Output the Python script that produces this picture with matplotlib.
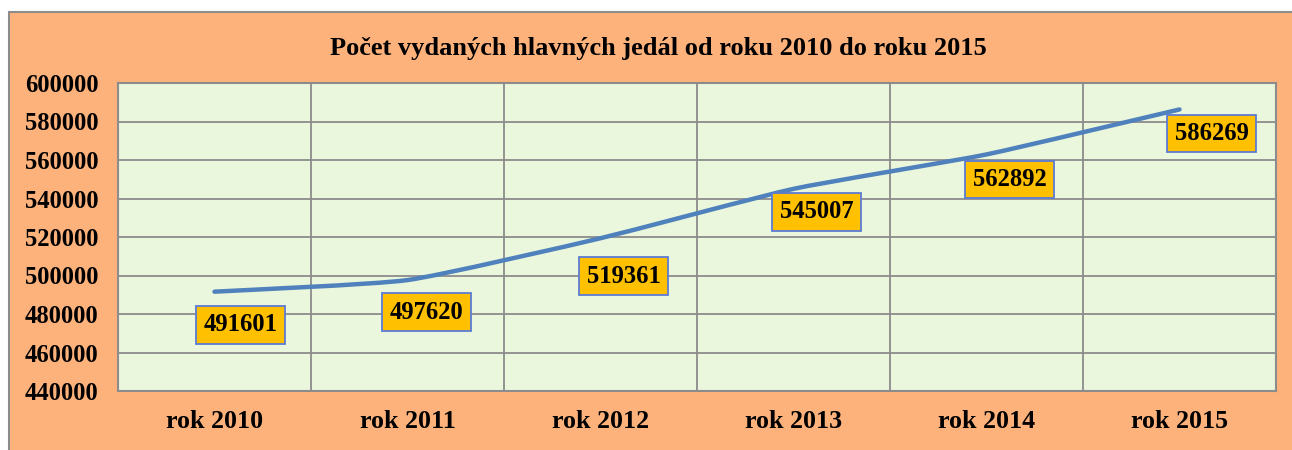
import matplotlib
matplotlib.use("Agg")
import matplotlib.pyplot as plt
from matplotlib.patches import Rectangle, PathPatch
from matplotlib.path import Path
import numpy as np

categories = ["rok 2010", "rok 2011", "rok 2012", "rok 2013", "rok 2014", "rok 2015"]
values = [491601, 497620, 519361, 545007, 562892, 586269]
yticks = [440000, 460000, 480000, 500000, 520000, 540000, 560000, 580000, 600000]
title = "Počet vydaných hlavných jedál od roku 2010 do roku 2015"

# label offsets in pixels (layout only)
label_offsets = [(26, -33), (19, -32), (23, -38), (23, -23), (23, -25), (32, -24)]

plt.rcParams['font.family'] = ['Liberation Serif', 'DejaVu Serif']
plt.rcParams['font.weight'] = 'bold'

W, H = 1292, 450
fig = plt.figure(figsize=(W / 100, H / 100), dpi=100)
fig.patch.set_facecolor("white")

# outer peach frame
fig.patches.append(Rectangle((9 / W, -0.05), 1.1, 1 - 12 / H + 0.05,
                             transform=fig.transFigure, facecolor="#FDB27C",
                             edgecolor="#8C8C8C", linewidth=1.5, zorder=-10))

ax = fig.add_axes([118 / W, 59 / H, (1276 - 118) / W, (391 - 83) / H])
ax.set_facecolor("#EBF7DC")
x = np.arange(len(categories))

ax.set_xlim(-0.5, len(categories) - 0.5)
ax.set_ylim(yticks[0], yticks[-1])
ax.set_yticks(yticks)
ax.set_yticklabels([str(v) for v in yticks], fontsize=17.7, fontweight='bold')
ax.set_xticks(x)
ax.set_xticklabels(categories, fontsize=18.7, fontweight='bold')
ax.set_xticks(np.arange(len(categories) + 1) - 0.5, minor=True)
ax.tick_params(axis='both', which='both', length=0)
ax.tick_params(axis='y', pad=14)
ax.tick_params(axis='x', pad=14)
ax.grid(True, axis='y', which='major', color="#8C8C8C", linewidth=1.3)
ax.grid(True, axis='x', which='minor', color="#8C8C8C", linewidth=1.3)
ax.grid(False, axis='x', which='major')
for s in ax.spines.values():
    s.set_color("#8C8C8C")
    s.set_linewidth(1.5)

# smoothed line (low-tension Bezier through the data points)
pts = np.column_stack([x, values]).astype(float)
verts = [tuple(pts[0])]
codes = [Path.MOVETO]
n = len(pts)
k = 1 / 12
for i in range(n - 1):
    p0 = pts[i - 1] if i > 0 else pts[i]
    p1 = pts[i]
    p2 = pts[i + 1]
    p3 = pts[i + 2] if i + 2 < n else pts[i + 1]
    c1 = p1 + (p2 - p0) * k
    c2 = p2 - (p3 - p1) * k
    verts += [tuple(c1), tuple(c2), tuple(p2)]
    codes += [Path.CURVE4] * 3
ax.add_patch(PathPatch(Path(verts, codes), facecolor="none", edgecolor="#4F81BD",
                       linewidth=3.2, capstyle='round', zorder=3))

for xi, v, (dx, dy) in zip(x, values, label_offsets):
    ax.annotate(str(v), (xi, v), xytext=(dx, dy), textcoords='offset pixels',
                ha='center', va='center', fontsize=17.7, fontweight='bold',
                bbox=dict(boxstyle='square,pad=0.3', facecolor="#FFC000",
                          edgecolor="#5B7BD5", linewidth=1.3), zorder=4)

fig.text(658 / W, 1 - 48 / H, title, ha='center', va='center',
         fontsize=19, fontweight='bold')

fig.savefig("out.png", dpi=100)
